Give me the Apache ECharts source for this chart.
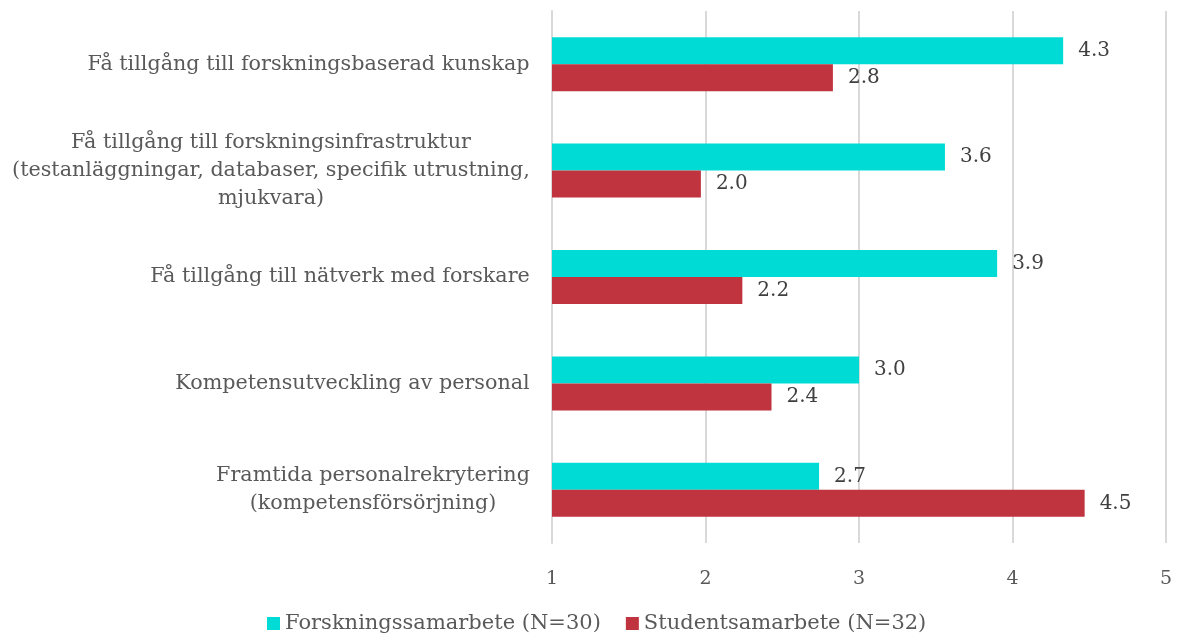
<!DOCTYPE html>
<html>
<head>
<meta charset="utf-8">
<script src="https://cdn.jsdelivr.net/npm/echarts@6/dist/echarts.min.js"></script>
<style>
  html, body { margin: 0; padding: 0; background: #fff; }
  #chart { width: 1180px; height: 639px; }
</style>
</head>
<body>
<div id="chart"></div>
<script>
// kategorier, uppifrån och ned
const categories = [
  'Få tillgång till forskningsbaserad kunskap',
  'Få tillgång till forskningsinfrastruktur\n(testanläggningar, databaser, specifik utrustning,\nmjukvara)',
  'Få tillgång till nätverk med forskare',
  'Kompetensutveckling av personal',
  'Framtida personalrekrytering\n(kompetensförsörjning)'
];
const seriesNames = ['Forskningssamarbete (N=30)', 'Studentsamarbete (N=32)'];
const forskning = [4.33, 3.56, 3.90, 3.00, 2.74];
const student = [2.83, 1.97, 2.24, 2.43, 4.47];
const xTicks = [1, 2, 3, 4, 5];

const font = 'DejaVu Serif';
const grey = '#595959';
const catSize = 20.7;

//mät bredaste raden så att flerradiga etiketter kan centreras
const ctx = document.createElement('canvas').getContext('2d');
ctx.font = catSize + 'px "' + font + '"';
const rich = {};
categories.forEach((c, i) => {
  const w = Math.max(...c.split('\n').map(s => ctx.measureText(s).width));
  rich['c' + i] = { width: Math.ceil(w), align: 'center', fontFamily: font, fontSize: catSize, color: grey, lineHeight: 28 };
});

const chart = echarts.init(document.getElementById('chart'));

//etikett till höger om stapeln
const label = {
  show: true,
  position: 'right',
  distance: 15,
  fontFamily: font,
  fontSize: 20,
  color: '#404040',
  formatter: (p) => p.value.toFixed(1)
};

chart.setOption({
  animation: false,
  textStyle: { fontFamily: font },
  legend: {
    data: seriesNames,
    bottom: 0,
    left: 262,
    itemWidth: 13,
    itemHeight: 13,
    itemGap: 25,
    icon: 'rect',
    textStyle: { fontFamily: font, fontSize: 21, color: grey }
  },
  grid: { left: 552, right: 14, top: 11, bottom: 96, containLabel: false },
  xAxis: {
    type: 'value',
    min: xTicks[0],
    max: xTicks[xTicks.length - 1],
    interval: 1,
    axisLine: { show: false },
    axisTick: { show: false },
    splitLine: { lineStyle: { color: '#d9d9d9', width: 2 } },
    axisLabel: { fontFamily: font, fontSize: 19, color: grey, margin: 27 }
  },
  yAxis: {
    type: 'category',
    data: categories,
    inverse: true,
    axisLine: { show: true, lineStyle: { color: '#d9d9d9', width: 2 } },
    axisTick: { show: false },
    axisLabel: {
      margin: 22,
      align: 'right',
      formatter: (v, i) => v.split('\n').map(s => '{c' + i + '|' + s + '}').join('\n'),
      rich: rich
    }
  },
  series: [
    {
      name: seriesNames[0],
      type: 'bar',
      data: forskning,
      barWidth: 27,
      barGap: '0%',
      itemStyle: { color: '#00dcd5' },
      label: label
    },
    {
      name: seriesNames[1],
      type: 'bar',
      data: student,
      barWidth: 27,
      barGap: '0%',
      itemStyle: { color: '#c0343f' },
      label: label
    }
  ]
});
</script>
</body>
</html>
